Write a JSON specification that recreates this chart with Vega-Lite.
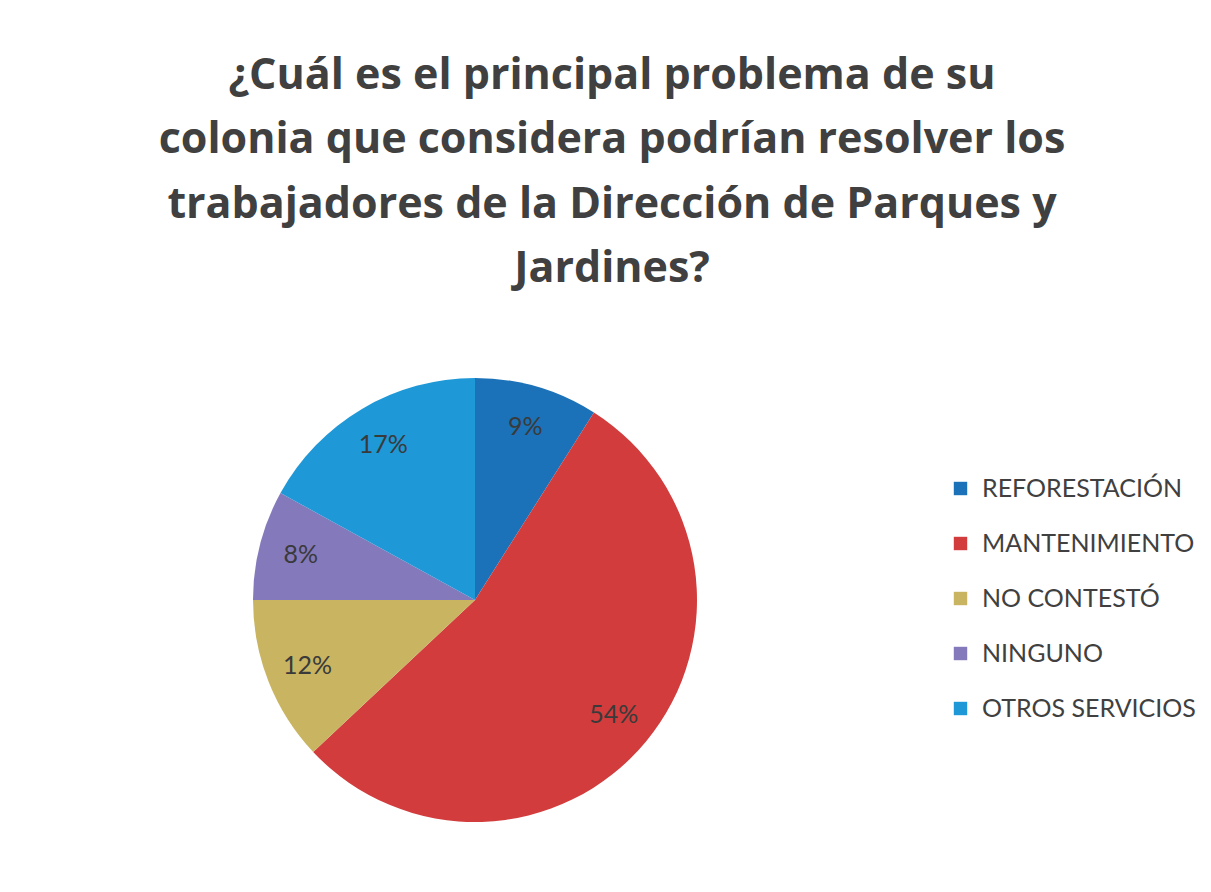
{
  "$schema": "https://vega.github.io/schema/vega-lite/v6.json",
  "autosize": {"type": "none"},
  "width": 444,
  "height": 444,
  "padding": {"left": 253, "top": 378, "right": 514, "bottom": 70},
  "background": "white",
  "config": {"view": {"stroke": null}},
  "title": {
    "text": ["¿Cuál es el principal problema de su", "colonia que considera podrían resolver los", "trabajadores de la Dirección de Parques y", "Jardines?"],
    "font": "Open Sans",
    "fontSize": 43,
    "fontWeight": "bold",
    "color": "#404040",
    "lineHeight": 64.5,
    "anchor": "middle",
    "frame": "group",
    "dx": 137,
    "offset": 87
  },
  "data": {
    "values": [
      {"categoria": "REFORESTACIÓN", "pct": 0.09, "orden": 1},
      {"categoria": "MANTENIMIENTO", "pct": 0.54, "orden": 2},
      {"categoria": "NO CONTESTÓ", "pct": 0.12, "orden": 3},
      {"categoria": "NINGUNO", "pct": 0.08, "orden": 4},
      {"categoria": "OTROS SERVICIOS", "pct": 0.17, "orden": 5}
    ]
  },
  "encoding": {
    "theta": {"field": "pct", "type": "quantitative", "stack": true},
    "order": {"field": "orden", "type": "quantitative"}
  },
  "layer": [
    {
      "mark": {"type": "arc"},
      "encoding": {
        "color": {
          "field": "categoria",
          "type": "nominal",
          "scale": {
            "domain": ["REFORESTACIÓN", "MANTENIMIENTO", "NO CONTESTÓ", "NINGUNO", "OTROS SERVICIOS"],
            "range": ["#1c72b8", "#d23c3c", "#c9b462", "#8479bb", "#1e98d6"]
          },
          "legend": {
            "title": null,
            "orient": "none",
            "legendX": 695,
            "legendY": 98,
            "symbolType": "square",
            "symbolSize": 180,
            "symbolStrokeWidth": 0,
            "labelFont": "Lato",
            "labelFontSize": 25,
            "labelColor": "#404040",
            "labelOffset": 9,
            "rowPadding": 29,
            "labelLimit": 400
          }
        }
      }
    },
    {
      "mark": {"type": "text", "radius": 180, "font": "Lato", "fontSize": 25, "color": "#3a3a3a"},
      "encoding": {
        "text": {"field": "pct", "type": "quantitative", "format": ".0%"}
      }
    }
  ]
}
